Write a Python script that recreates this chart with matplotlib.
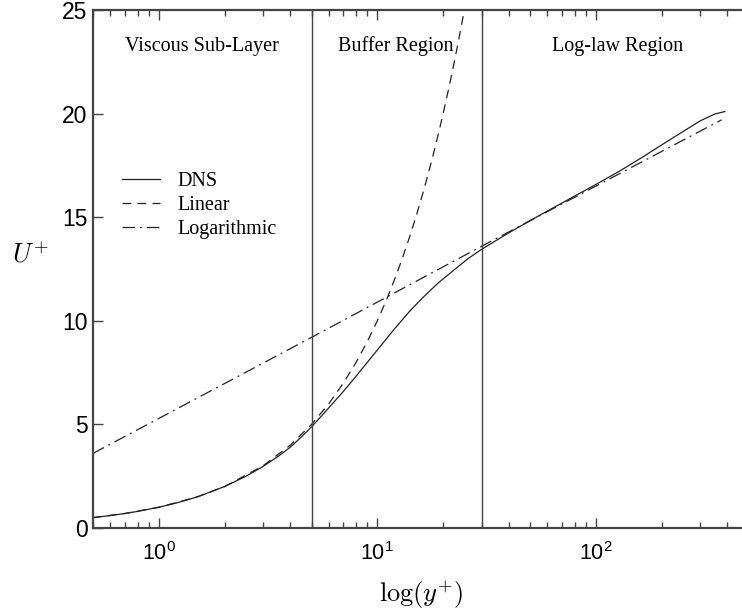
import numpy as np
import matplotlib
matplotlib.use("Agg")
import matplotlib.pyplot as plt

plt.rcParams['font.family'] = ['Liberation Sans', 'DejaVu Sans']
plt.rcParams['mathtext.fontset'] = 'custom'
plt.rcParams['mathtext.rm'] = 'Liberation Sans'
plt.rcParams['mathtext.it'] = 'Liberation Sans:italic'

# DNS profile
dns_y = [0.5, 0.6, 0.7, 0.8, 1, 1.2, 1.5, 2, 2.5, 3, 3.5, 4, 4.5, 5, 6, 7, 8, 10, 12, 14, 16,
         19, 22, 26, 30, 40, 55, 75, 100, 130, 160, 200, 250, 300, 350, 389]
dns_u = [0.5, 0.6, 0.7, 0.8, 1.0, 1.2, 1.5, 2.0, 2.49, 2.97, 3.44, 3.9, 4.4, 4.88, 5.8, 6.6, 7.33,
         8.59, 9.62, 10.44, 11.08, 11.83, 12.38, 13.0, 13.45, 14.25, 15.08, 15.86, 16.58, 17.26,
         17.84, 18.49, 19.13, 19.65, 19.98, 20.1]

# linear law (viscous sublayer)
lin_y = [0.5, 0.7, 1, 1.5, 2, 3, 4, 5, 6, 7, 8, 9, 10, 11, 12, 13, 14, 15, 16, 17, 18, 19, 20, 21, 22, 23, 24, 25, 26]
lin_u = [0.5, 0.7, 1, 1.5, 2, 3, 4, 5, 6, 7, 8, 9, 10, 11, 12, 13, 14, 15, 16, 17, 18, 19, 20, 21, 22, 23, 24, 25, 26]

# log law
log_y = [0.5, 5, 30, 100, 376]
log_u = [3.6, 9.2, 13.6, 16.5, 19.7]

walls = [5, 30]
regions = ["Viscous Sub-Layer", "Buffer Region", "Log-law Region"]
region_x = [1.58, 12.2, 125]

fig = plt.figure(figsize=(7.42, 6.14), dpi=100)
ax = fig.add_axes([0.1253, 0.1401, 0.8837, 0.8436])

lc = '#222222'
ax.plot(dns_y, dns_u, color=lc, lw=0.9, label='DNS')
ax.plot(lin_y, lin_u, color=lc, lw=0.9, dashes=(7, 5), label='Linear')
ax.plot(log_y, log_u, color=lc, lw=0.9, dashes=(10, 4, 1.5, 4), label='Logarithmic')

for w in walls:
    ax.axvline(w, color='#444444', lw=1.0)

for name, xr in zip(regions, region_x):
    ax.text(xr, 23.25, name, ha='center', va='center', fontsize=14.5,
            family='Liberation Serif')

ax.set_xscale('log')
ax.set_xlim(0.5, 500)
ax.set_ylim(0, 25)
ax.set_yticks([0, 5, 10, 15, 20, 25])

for sp in ax.spines.values():
    sp.set_color('#444444')
    sp.set_linewidth(1.6)

ax.tick_params(which='both', direction='in', top=True, right=False, colors='#444444',
               labelcolor='black')
ax.tick_params(which='major', length=7, width=1)
ax.tick_params(which='minor', length=4, width=1)
ax.tick_params(axis='x', pad=10, labelsize=15.5)
ax.tick_params(axis='y', pad=4, labelsize=16.5)

ax.set_xlabel(r'$\log(y^{+})$', fontsize=19, math_fontfamily='cm', labelpad=10)
ax.set_ylabel(r'$U^{+}$', fontsize=19, math_fontfamily='cm', rotation=0, va='center')
ax.yaxis.set_label_coords(-0.096, 0.527)

leg = ax.legend(loc='upper left', bbox_to_anchor=(0.0285, 0.707), frameon=False,
                prop={'family': 'Liberation Serif', 'size': 14.5},
                handlelength=1.9, handletextpad=0.85, labelspacing=0.25, borderpad=0)

fig.savefig('out.png', dpi=100)
